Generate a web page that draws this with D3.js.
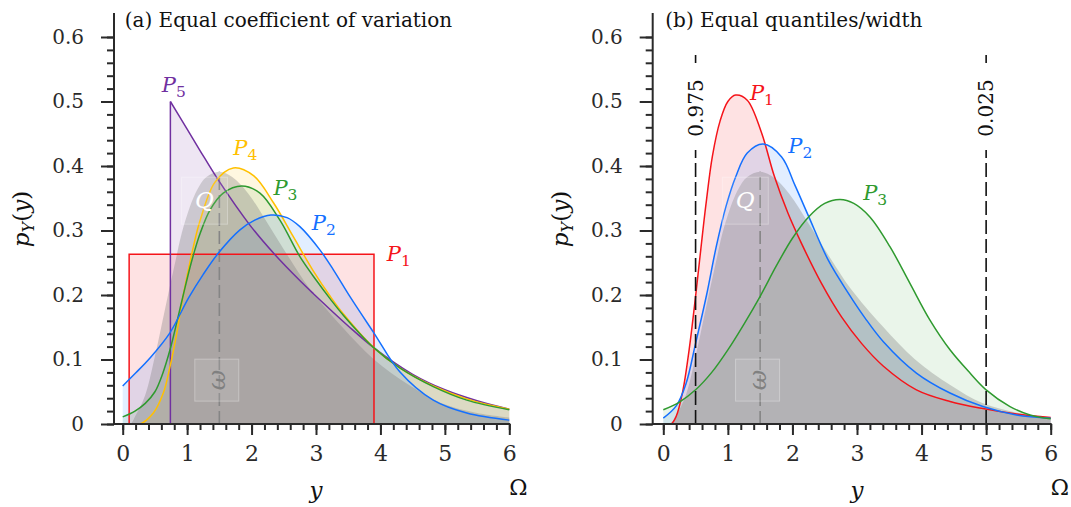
<!DOCTYPE html>
<html>
<head>
<meta charset="utf-8">
<script src="https://cdn.jsdelivr.net/npm/d3@7"></script>
<style>
  html, body { margin: 0; padding: 0; background: #fff; }
  svg { display: block; font-family: "DejaVu Serif", serif; }
</style>
</head>
<body>
<svg id="chart" width="1071" height="507"></svg>
<script>
// ---- axes ----
const xTicks = [0, 1, 2, 3, 4, 5, 6];
const yTicks = [0, 0.1, 0.2, 0.3, 0.4, 0.5, 0.6];
const yTickLabels = ["0", "0.1", "0.2", "0.3", "0.4", "0.5", "0.6"];

// ---- reference density Q (shared by both panels) ----
const densityQ = [[0,0],[0.12,0],[0.2,0.013],[0.35,0.045],[0.5,0.105],[0.65,0.175],[0.8,0.244],
  [0.95,0.308],[1.15,0.362],[1.3,0.383],[1.5,0.391],[1.7,0.383],[1.95,0.357],[2.25,0.311],
  [2.6,0.255],[2.9,0.21],[3.4,0.151],[3.9,0.1],[4.45,0.06],[4.95,0.032],[5.5,0.017],[6,0.01]];
const modeQ = 1.5;

// ---- panel (a): equal coefficient of variation ----
const aP1Bounds = [0.1, 3.9];
const aP1Density = 0.263;
const aP2 = [[0,0.059],[0.2,0.079],[0.42,0.102],[0.73,0.141],[1.02,0.195],[1.25,0.232],[1.485,0.265],
  [1.82,0.301],[2.05,0.316],[2.3,0.324],[2.55,0.32],[2.75,0.306],[3.06,0.27],[3.27,0.239],[3.53,0.197],
  [3.9,0.141],[4.3,0.081],[4.82,0.037],[5.34,0.017],[6,0.006]];
const aP3 = [[0,0.011],[0.19,0.02],[0.35,0.032],[0.5,0.05],[0.62,0.078],[0.734,0.115],[0.84,0.158],
  [0.94,0.2],[1.045,0.243],[1.12,0.27],[1.2,0.295],[1.356,0.332],[1.56,0.358],[1.848,0.369],
  [2.13,0.358],[2.44,0.316],[2.753,0.259],[3.01,0.222],[3.22,0.194],[3.43,0.168],[3.9,0.118],
  [4.3,0.087],[4.82,0.058],[5.34,0.037],[6,0.022]];
const aP4 = [[0,0],[0.27,0],[0.475,0.017],[0.63,0.048],[0.734,0.089],[0.84,0.141],[0.94,0.2],
  [1.097,0.275],[1.2,0.315],[1.433,0.375],[1.717,0.397],[2.03,0.385],[2.34,0.343],[2.65,0.29],
  [2.96,0.237],[3.22,0.198],[3.43,0.17],[3.9,0.118],[4.3,0.087],[4.82,0.059],[5.34,0.039],[6,0.023]];
const aP5 = [[0.74,0.5],[1.0,0.457],[1.2,0.424],[1.485,0.378],[1.977,0.308],[2.34,0.265],[2.753,0.222],
  [2.96,0.202],[3.5,0.152],[3.9,0.118],[4.5,0.077],[5.0,0.053],[5.5,0.036],[6,0.023]];

// ---- panel (b): equal quantiles / width ----
const bP1 = [[0,0],[0.12,0],[0.2,0.012],[0.3,0.05],[0.4,0.115],[0.5,0.198],[0.58,0.27],[0.66,0.34],
  [0.76,0.415],[0.88,0.47],[1.0,0.5],[1.12,0.51],[1.3,0.502],[1.52,0.452],[1.72,0.384],[1.93,0.327],
  [2.14,0.28],[2.45,0.218],[2.76,0.166],[3.07,0.125],[3.405,0.09],[3.92,0.053],[4.44,0.035],
  [4.95,0.024],[5.47,0.0155],[6,0.01]];
const bP2 = [[0,0.009],[0.2,0.028],[0.35,0.062],[0.5,0.125],[0.67,0.2],[0.82,0.275],[0.97,0.337],
  [1.12,0.383],[1.3,0.42],[1.548,0.434],[1.833,0.414],[2.04,0.37],[2.246,0.323],[2.555,0.254],
  [2.865,0.203],[3.12,0.165],[3.405,0.128],[3.92,0.079],[4.44,0.048],[4.95,0.027],[5.47,0.014],[6,0.009]];
const bP3 = [[0,0.022],[0.25,0.034],[0.5,0.053],[0.75,0.08],[1.0,0.115],[1.25,0.155],[1.5,0.198],
  [1.75,0.245],[2.0,0.288],[2.25,0.321],[2.5,0.342],[2.738,0.348],[2.95,0.342],[3.2,0.321],[3.51,0.275],
  [3.82,0.218],[4.13,0.161],[4.44,0.115],[4.75,0.079],[5.0,0.053],[5.37,0.027],[5.68,0.014],[6,0.008]];
const quantileX = [0.5, 5];
const quantileLabels = ["0.975", "0.025"];
const quantileTop = 0.572;

// ---- colours ----
const C = { red: "#f5141a", blue: "#1470ff", green: "#2f9a2f", yellow: "#ffc000", purple: "#7030a0" };

const svg = d3.select("#chart");
const defs = svg.append("defs");

function subLabel(g, x, y, main, sub, color, size) {
  const t = g.append("text").attr("x", x).attr("y", y).attr("fill", color)
    .style("font-size", size + "px");
  t.append("tspan").style("font-style", "italic").text(main);
  t.append("tspan").attr("dy", 5).style("font-size", (size * 0.74) + "px").text(sub);
  return t;
}

function drawPanel(cfg) {
  const g = svg.append("g");
  const x = d3.scaleLinear().domain([0, 6]).range([cfg.x0, cfg.x1]);
  const y = d3.scaleLinear().domain([0, 0.6]).range([424, 37]);
  const curve = d3.curveCatmullRom.alpha(0.5);
  const area = d3.area().x(d => x(d[0])).y0(y(0)).y1(d => y(d[1])).curve(curve);
  const line = d3.line().x(d => x(d[0])).y(d => y(d[1])).curve(curve);
  const straight = d3.line().x(d => x(d[0])).y(d => y(d[1]));

  // keep the smoothed curves inside the plotting window
  defs.append("clipPath").attr("id", cfg.id).append("rect")
    .attr("x", x(0) - 1).attr("y", 0).attr("width", x(6) - x(0) + 2).attr("height", y(0) + 0.5);
  const plot = g.append("g").attr("clip-path", `url(#${cfg.id})`);

  // filled densities
  cfg.series.forEach(s => {
    if (s.rect) {
      plot.append("path").attr("d", straight([[s.rect[0],0],[s.rect[0],s.h],[s.rect[1],s.h],[s.rect[1],0]]))
        .attr("fill", s.color).attr("fill-opacity", 0.12);
    } else {
      plot.append("path").attr("d", area(s.data)).attr("fill", s.color).attr("fill-opacity", s.op || 0.12);
    }
  });
  // Q shading
  plot.append("path").attr("d", area(densityQ)).attr("fill", "#7a7a7a").attr("fill-opacity", 0.33);

  // mode marker of Q
  const qPeak = densityQ.find(d => d[0] === modeQ)[1];
  plot.append("line").attr("x1", x(modeQ)).attr("x2", x(modeQ)).attr("y1", y(0)).attr("y2", y(qPeak))
    .attr("stroke", "#858585").attr("stroke-width", 1.6).attr("stroke-dasharray", "13,5");

  // density outlines
  cfg.series.forEach(s => {
    const common = p => p.attr("fill", "none").attr("stroke", s.color).attr("stroke-width", 1.5);
    if (s.rect) {
      common(plot.append("path").attr("d", straight([[s.rect[0],0],[s.rect[0],s.h],[s.rect[1],s.h],[s.rect[1],0]])));
    } else {
      common(plot.append("path").attr("d", line(s.data)));
      if (s.jump) {
        common(plot.append("path").attr("d", straight([[s.data[0][0], 0], s.data[0]])));
      }
    }
  });

  // quantile markers
  if (cfg.quantiles) {
    cfg.quantiles.forEach((q, i) => {
      g.append("line").attr("x1", x(q)).attr("x2", x(q)).attr("y1", y(0)).attr("y2", y(quantileTop))
        .attr("stroke", "#111").attr("stroke-width", 1.6).attr("stroke-dasharray", "14,5");
      g.append("rect").attr("x", x(q) - 11).attr("y", 64).attr("width", 22).attr("height", 86)
        .attr("fill", "#fff");
      g.append("text").attr("transform", `translate(${x(q)},108) rotate(-90)`)
        .attr("text-anchor", "middle").attr("dominant-baseline", "central")
        .style("font-size", "20px").attr("fill", "#111").text(quantileLabels[i]);
    });
  }

  // Q label box
  const qx = x(1.27), qy = y(0.347);
  g.append("rect").attr("x", qx - 23).attr("y", qy - 23).attr("width", 46).attr("height", 47)
    .attr("fill", "#fff").attr("fill-opacity", 0.1).attr("stroke", "#fff").attr("stroke-opacity", 0.3);
  g.append("text").attr("x", qx).attr("y", qy).attr("text-anchor", "middle").attr("dominant-baseline", "central")
    .style("font-size", "23px").style("font-style", "italic").attr("fill", "#fff").text("Q");

  // ω label box
  const wx = x(1.46), wy = y(0.068);
  g.append("rect").attr("x", wx - 22).attr("y", wy - 21).attr("width", 44).attr("height", 42)
    .attr("fill", "#fff").attr("fill-opacity", 0.1).attr("stroke", "#fff").attr("stroke-opacity", 0.3);
  g.append("text").attr("transform", `translate(${wx},${wy}) rotate(-90)`)
    .attr("text-anchor", "middle").attr("dominant-baseline", "central")
    .style("font-size", "25px").style("font-style", "italic").attr("fill", "#808080").text("ω");

  // series labels
  cfg.labels.forEach(l => subLabel(g, x(l.x), y(l.y), "P", l.sub, l.color, 21));

  // axes
  const axisColor = "#2a2a2a";
  const yAxisX = cfg.x0 - cfg.yGap;
  const xa = g.append("g").attr("transform", `translate(0,${y(0)})`)
    .call(d3.axisBottom(x).tickValues(xTicks).tickSize(11).tickPadding(10).tickFormat(d3.format("d")));
  const xm = g.append("g").attr("transform", `translate(0,${y(0)})`)
    .call(d3.axisBottom(x).tickValues(d3.range(0, 6.001, 0.2)).tickSize(6).tickFormat(""));
  const ya = g.append("g").attr("transform", `translate(${yAxisX},0)`)
    .call(d3.axisLeft(y).tickValues(yTicks).tickSize(13).tickPadding(17).tickFormat((d, i) => yTickLabels[i]));
  const ym = g.append("g").attr("transform", `translate(${yAxisX},0)`)
    .call(d3.axisLeft(y).tickValues(d3.range(0, 0.601, 0.02)).tickSize(7).tickFormat(""));
  [xa, xm, ya, ym].forEach(a => {
    a.select(".domain").remove();
    a.selectAll(".tick line").attr("stroke", axisColor).attr("stroke-width", 2);
    a.selectAll(".tick text").attr("fill", axisColor).style("font-family", "DejaVu Serif, serif").style("font-size", "20px");
  });
  xa.selectAll(".tick text").style("font-size", "22px");
  g.append("line").attr("x1", yAxisX).attr("x2", x(6) + 1).attr("y1", y(0)).attr("y2", y(0))
    .attr("stroke", axisColor).attr("stroke-width", 2);
  g.append("line").attr("x1", yAxisX).attr("x2", yAxisX).attr("y1", y(0) + 1).attr("y2", 13)
    .attr("stroke", axisColor).attr("stroke-width", 2);

  // axis titles
  g.append("text").attr("x", x(3)).attr("y", 498).attr("text-anchor", "middle")
    .style("font-size", "23px").style("font-style", "italic").attr("fill", "#111").text("y");
  g.append("text").attr("x", x(6)).attr("y", 495).style("font-size", "22px").attr("fill", "#111").text("Ω");
  const yl = g.append("text").attr("transform", `translate(${yAxisX - 85},219) rotate(-90)`)
    .attr("text-anchor", "middle").style("font-size", "23px").attr("fill", "#111");
  yl.append("tspan").style("font-style", "italic").text("p");
  yl.append("tspan").attr("dy", 5).style("font-size", "16px").style("font-style", "italic").text("Y");
  yl.append("tspan").attr("dy", -5).text("(");
  yl.append("tspan").style("font-style", "italic").text("y");
  yl.append("tspan").text(")");

  // panel title
  g.append("text").attr("x", cfg.x0 + 2).attr("y", 27).style("font-size", "20px").attr("fill", "#111").text(cfg.title);
}

drawPanel({
  id: "clip-a", x0: 122.7, x1: 509.3, yGap: 8.7,
  title: "(a) Equal coefficient of variation",
  series: [
    { rect: aP1Bounds, h: aP1Density, color: C.red },
    { data: aP5, color: C.purple, jump: true },
    { data: aP4, color: C.yellow },
    { data: aP3, color: C.green, op: 0.1 },
    { data: aP2, color: C.blue }
  ],
  labels: [
    { x: 0.606, y: 0.515, sub: "5", color: C.purple },
    { x: 1.717, y: 0.417, sub: "4", color: C.yellow },
    { x: 2.339, y: 0.355, sub: "3", color: C.green },
    { x: 2.935, y: 0.301, sub: "2", color: C.blue },
    { x: 4.099, y: 0.252, sub: "1", color: C.red }
  ]
});

drawPanel({
  id: "clip-b", x0: 663.3, x1: 1050.7, yGap: 10.6,
  title: "(b) Equal quantiles/width",
  quantiles: quantileX,
  series: [
    { data: bP1, color: C.red },
    { data: bP2, color: C.blue },
    { data: bP3, color: C.green, op: 0.1 }
  ],
  labels: [
    { x: 1.342, y: 0.503, sub: "1", color: C.red },
    { x: 1.935, y: 0.42, sub: "2", color: C.blue },
    { x: 3.096, y: 0.347, sub: "3", color: C.green }
  ]
});
</script>
</body>
</html>
